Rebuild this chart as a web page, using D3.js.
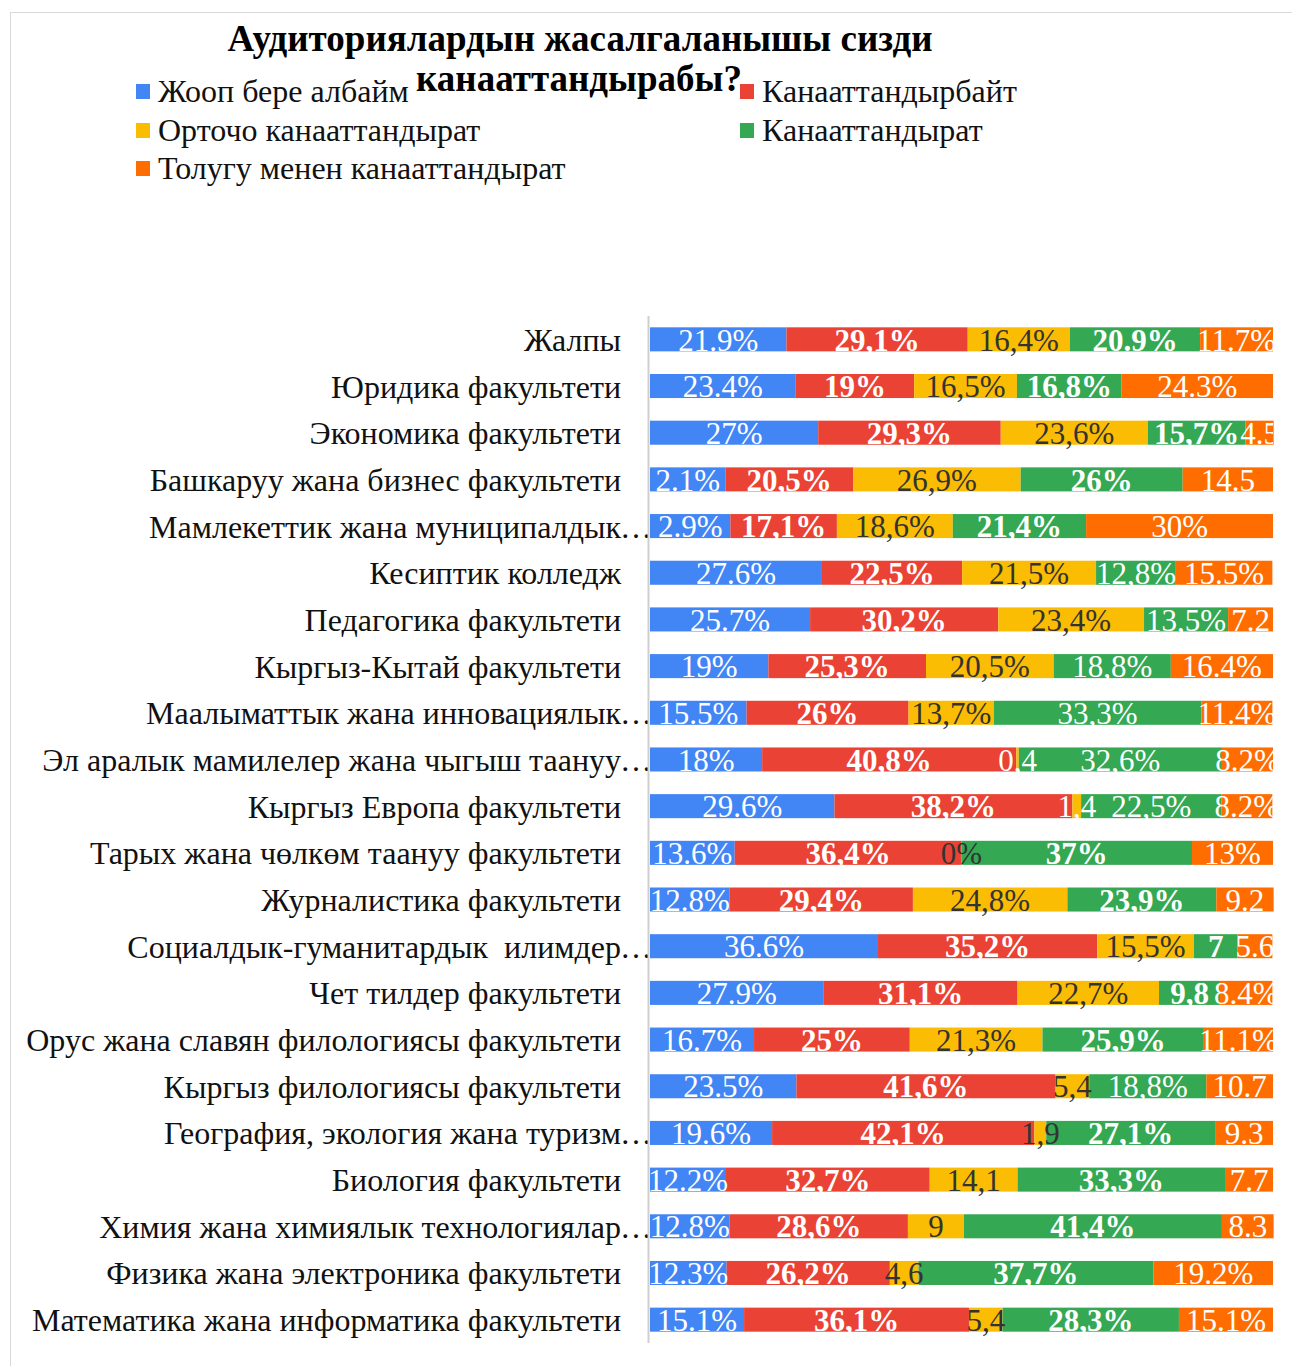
<!DOCTYPE html>
<html>
<head>
<meta charset="utf-8">
<script src="https://cdn.jsdelivr.net/npm/d3@7"></script>
<style>
  body { margin: 0; background: #fff; }
  svg text { font-family: "Liberation Serif", "Times New Roman", serif; white-space: pre; }
</style>
</head>
<body>
<div id="chart"></div>
<script>
// DATA
const categories = [
  "Жалпы",
  "Юридика факультети",
  "Экономика факультети",
  "Башкаруу жана бизнес факультети",
  "Мамлекеттик жана муниципалдык…",
  "Кесиптик колледж",
  "Педагогика факультети",
  "Кыргыз-Кытай факультети",
  "Маалыматтык жана инновациялык…",
  "Эл аралык мамилелер жана чыгыш таануу…",
  "Кыргыз Европа факультети",
  "Тарых жана чөлкөм таануу факультети",
  "Журналистика факультети",
  "Социалдык-гуманитардык  илимдер…",
  "Чет тилдер факультети",
  "Орус жана славян филологиясы факультети",
  "Кыргыз филологиясы факультети",
  "География, экология жана туризм…",
  "Биология факультети",
  "Химия жана химиялык технологиялар…",
  "Физика жана электроника факультети",
  "Математика жана информатика факультети"
];

const seriesNames = ["Жооп бере албайм", "Канааттандырбайт", "Орточо канааттандырат", "Канааттандырат", "Толугу менен канааттандырат"];

const cantAnswer = [21.9, 23.4, 27, 12.1, 12.9, 27.6, 25.7, 19, 15.5, 18, 29.6, 13.6, 12.8, 36.6, 27.9, 16.7, 23.5, 19.6, 12.2, 12.8, 12.3, 15.1];
const notSatisfied = [29.1, 19, 29.3, 20.5, 17.1, 22.5, 30.2, 25.3, 26, 40.8, 38.2, 36.4, 29.4, 35.2, 31.1, 25, 41.6, 42.1, 32.7, 28.6, 26.2, 36.1];
const middling = [16.4, 16.5, 23.6, 26.9, 18.6, 21.5, 23.4, 20.5, 13.7, 0.4, 1.4, 0, 24.8, 15.5, 22.7, 21.3, 5.4, 1.9, 14.1, 9, 4.6, 5.4];
const satisfied = [20.9, 16.8, 15.7, 26, 21.4, 12.8, 13.5, 18.8, 33.3, 32.6, 22.5, 37, 23.9, 7, 9.8, 25.9, 18.8, 27.1, 33.3, 41.4, 37.7, 28.3];
const fully = [11.7, 24.3, 4.5, 14.5, 30, 15.5, 7.2, 16.4, 11.4, 8.2, 8.2, 13, 9.2, 5.6, 8.4, 11.1, 10.7, 9.3, 7.7, 8.3, 19.2, 15.1];

// labels as they are printed on the bars
const cantAnswerLabels = ["21.9%","23.4%","27%","2.1%","2.9%","27.6%","25.7%","19%","15.5%","18%","29.6%","13.6%","12.8%","36.6%","27.9%","16.7%","23.5%","19.6%","12.2%","12.8%","12.3%","15.1%"];
const notSatisfiedLabels = ["29,1%","19%","29,3%","20,5%","17,1%","22,5%","30,2%","25,3%","26%","40,8%","38,2%","36,4%","29,4%","35,2%","31,1%","25%","41,6%","42,1%","32,7%","28,6%","26,2%","36,1%"];
const middlingLabels = ["16,4%","16,5%","23,6%","26,9%","18,6%","21,5%","23,4%","20,5%","13,7%","0,4","1,4","0%","24,8%","15,5%","22,7%","21,3%","5,4","1,9","14,1","9","4,6","5,4"];
const satisfiedLabels = ["20.9%","16,8%","15,7%","26%","21,4%","12,8%","13,5%","18,8%","33,3%","32,6%","22,5%","37%","23,9%","7","9,8","25,9%","18,8%","27,1%","33,3%","41,4%","37,7%","28,3%"];
const fullyLabels = ["11.7%","24.3%","4.5","14.5","30%","15.5%","7.2","16.4%","11.4%","8.2%","8.2%","13%","9.2","5.6","8.4%","11.1%","10.7","9.3","7.7","8.3","19.2%","15.1%"];

const colors = ["#4285F4", "#EA4335", "#FBBC04", "#34A853", "#FF6D01"];
const labelColors = ["#fff", "#fff", "#333", "#fff", "#fff"];
const labelWeights = ["normal", "bold", "normal", "bold", "normal"];
const plainGreenRows = [5, 6, 7, 8, 9, 10, 16];

const values = [cantAnswer, notSatisfied, middling, satisfied, fully];
const labels = [cantAnswerLabels, notSatisfiedLabels, middlingLabels, satisfiedLabels, fullyLabels];

// SIZE
const width = 1292, height = 1366;
const margin = { left: 650, right: 19, top: 316, bottom: 23 };

const svg = d3.select("#chart").append("svg")
  .attr("width", width)
  .attr("height", height);

// frame
svg.append("rect")
  .attr("x", 10.5).attr("y", 12.5)
  .attr("width", width).attr("height", height)
  .attr("fill", "none")
  .attr("stroke", "#d9d9d9");

// SCALES
const xScale = d3.scaleLinear()
  .domain([0, 100])
  .range([margin.left, width - margin.right]);

const yScale = d3.scaleBand()
  .domain(categories)
  .range([margin.top, height - margin.bottom])
  .paddingInner(0.485)
  .paddingOuter(0.2425);

// stack rows
const rows = categories.map((c, i) => {
  const r = { cat: c, i: i };
  seriesNames.forEach((s, k) => { r[k] = values[k][i]; });
  return r;
});
const stack = d3.stack().keys(d3.range(seriesNames.length))(rows);

// TITLE
const title = svg.append("text")
  .attr("text-anchor", "middle")
  .attr("font-size", 37)
  .attr("font-weight", "bold")
  .attr("fill", "#000");
title.append("tspan").attr("x", 580).attr("y", 51).text("Аудиториялардын жасалгаланышы сизди");
title.append("tspan").attr("x", 579).attr("y", 91).text("канааттандырабы?");

// LEGEND
const legendPos = [[136, 92], [740, 92], [136, 131], [740, 131], [136, 169]];
const legend = svg.append("g").attr("class", "legend")
  .selectAll("g")
  .data(seriesNames)
  .join("g")
  .attr("transform", (d, k) => `translate(${legendPos[k][0]},${legendPos[k][1]})`);
legend.append("rect")
  .attr("x", 0).attr("y", -8)
  .attr("width", 14).attr("height", 15)
  .attr("fill", (d, k) => colors[k]);
legend.append("text")
  .attr("x", 22).attr("y", 10)
  .attr("font-size", 32)
  .attr("fill", "#111")
  .text(d => d);

// CATEGORY LABELS
const catLabels = svg.append("g").attr("class", "yLabels")
  .selectAll("text")
  .data(categories)
  .join("text")
  .attr("y", d => yScale(d) + yScale.bandwidth() / 2)
  .attr("dy", "0.36em")
  .attr("font-size", 32)
  .attr("fill", "#111");
catLabels.each(function (d) {
  const t = d3.select(this);
  if (d.endsWith("…")) {
    t.attr("x", 621).attr("text-anchor", "end").text(d.slice(0, -1));
    svg.select(".yLabels").append("text")
      .attr("x", 620)
      .attr("y", yScale(d) + yScale.bandwidth() / 2)
      .attr("dy", "0.36em")
      .attr("font-size", 32)
      .attr("fill", "#111")
      .text("…");
  } else {
    t.attr("x", 621).attr("text-anchor", "end").text(d);
  }
});

// AXIS LINE
svg.append("line")
  .attr("x1", margin.left - 1.5).attr("x2", margin.left - 1.5)
  .attr("y1", margin.top).attr("y2", height - margin.bottom)
  .attr("stroke", "#cfcfcf")
  .attr("stroke-width", 2);

// BARS
svg.append("clipPath").attr("id", "plotClip")
  .append("rect")
  .attr("x", margin.left).attr("y", margin.top)
  .attr("width", width - margin.left - margin.right)
  .attr("height", height - margin.top - margin.bottom);

const layers = svg.append("g").attr("class", "bars")
  .selectAll("g")
  .data(stack)
  .join("g")
  .attr("fill", d => colors[d.key]);

layers.selectAll("rect")
  .data(d => d)
  .join("rect")
  .attr("x", d => xScale(d[0]))
  .attr("y", d => yScale(d.data.cat))
  .attr("width", d => Math.max(0, xScale(d[1]) - xScale(d[0])))
  .attr("height", yScale.bandwidth());

// BAR LABELS
const labelLayer = svg.append("g").attr("clip-path", "url(#plotClip)");
stack.forEach(layer => {
  const k = layer.key;
  labelLayer.append("g")
    .selectAll("text")
    .data(layer)
    .join("text")
    .attr("x", d => (xScale(d[0]) + xScale(d[1])) / 2)
    .attr("y", d => yScale(d.data.cat) + yScale.bandwidth() / 2)
    .attr("dy", "0.36em")
    .attr("text-anchor", "middle")
    .attr("font-size", 31)
    .attr("font-weight", d => (k === 3 && plainGreenRows.includes(d.data.i)) ? "normal" : labelWeights[k])
    .attr("fill", d => (k === 2 && d.data[k] > 0 && d.data[k] < 1.5) ? "#fff" : labelColors[k])
    .text(d => labels[k][d.data.i]);
});
</script>
</body>
</html>
